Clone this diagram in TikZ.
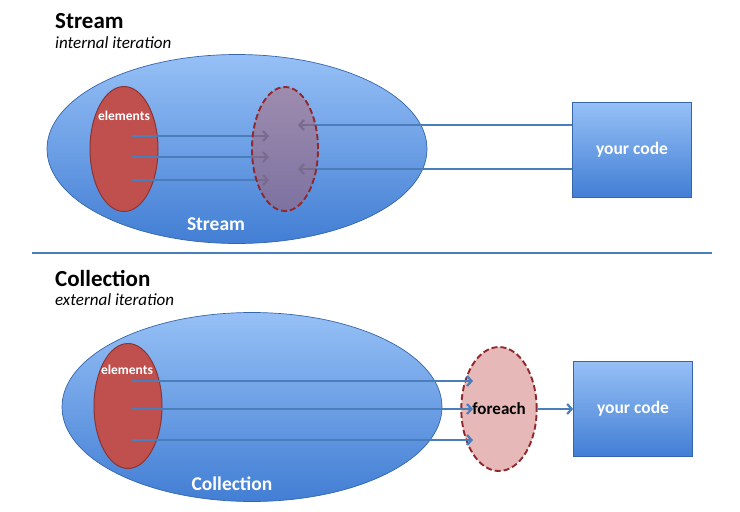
\documentclass[tikz,border=0pt]{standalone}
\usepackage{fontspec}
\setmainfont{Carlito}
\usetikzlibrary{shapes.geometric, arrows.meta}

\definecolor{elemred}{RGB}{192,80,77}
\definecolor{elemborder}{RGB}{140,52,50}
\definecolor{dashborder}{RGB}{145,40,45}
\definecolor{flowblue}{RGB}{74,126,187}
\definecolor{bluetop}{RGB}{150,192,246}
\definecolor{bluebottom}{RGB}{66,126,212}

\pgfdeclarelayer{front}
\pgfsetlayers{main,front}

\begin{document}
\begin{tikzpicture}[x=1pt, y=-1pt,
    heading/.style = {anchor=base west, inner sep=0, font=\fontsize{23}{27}\selectfont\bfseries},
    subheading/.style = {anchor=base west, inner sep=0, font=\fontsize{17}{20}\selectfont\itshape},
    container/.style = {ellipse, inner sep=0, minimum width=380, minimum height=189,
                        top color=bluetop, bottom color=bluebottom, draw=bluebottom!80!black, line width=0.7pt},
    elements/.style = {ellipse, inner sep=0, minimum width=68, minimum height=125,
                       fill=elemred, draw=elemborder, line width=1pt},
    loop/.style = {ellipse, inner sep=0, minimum width=66, minimum height=124, fill=elemred, fill opacity=0.4,
                   text opacity=1, draw=dashborder, draw opacity=1, dash pattern=on 6pt off 3pt, line width=1.9pt,
                   font=\fontsize{17}{20}\selectfont\bfseries},
    code/.style = {rectangle, inner sep=0, minimum width=119, minimum height=95, text=white,
                   top color=bluetop, bottom color=bluebottom, draw=bluebottom!80!black, line width=0.7pt,
                   font=\fontsize{17.5}{21}\selectfont\bfseries},
    caption/.style = {anchor=base, inner sep=0, text=white, font=\fontsize{19.5}{23}\selectfont\bfseries},
    tag/.style = {anchor=base, inner sep=0, text=white, font=\fontsize{13.5}{16}\selectfont\bfseries},
    flow/.style = {draw=flowblue, line width=2.2pt, -{Straight Barb[length=4.5pt, width=10pt]}}]
  \useasboundingbox (0, 0) rectangle (740, 512);

  % Stream.
  \node at (55, 28) [heading, name=StreamTitle] {Stream};
  \node at (55, 48) [subheading, name=StreamNote] {internal iteration};
  \node at (237, 149) [container, name=Stream] {};
  \node at (216, 230) [caption, name=StreamName] {Stream};
  \node at (124, 149) [elements, name=StreamElements] {};
  \node at (124, 120) [tag, name=StreamTag] {elements};
  \begin{pgfonlayer}{front}
    \node at (285, 149) [loop, name=StreamLoop] {};
  \end{pgfonlayer}
  \node at (632, 150) [code, name=StreamCode] {your code};

  \foreach \dy in {-13, 8, 31}
    \draw [flow] ([shift={(8, \dy)}] StreamElements.center)
                 to ([shift={(-16, \dy)}] StreamLoop.center);
  \foreach \dy in {-24, 20}
    \draw [flow] ([shift={(0, \dy-1)}] StreamCode.west)
                 to ([shift={(13, \dy)}] StreamLoop.center);

  % Divider
  \draw [flowblue, line width=1.8pt] (32, 253) -- (712, 253);

  % Collection.
  \node at (55, 286) [heading, name=CollectionTitle] {Collection};
  \node at (55, 305) [subheading, name=CollectionNote] {external iteration};
  \node at (252, 407) [container, name=Collection] {};
  \node at (232, 490) [caption, name=CollectionName] {Collection};
  \node at (128, 406) [elements, name=CollectionElements] {};
  \node at (127, 374) [tag, name=CollectionTag] {elements};
  \node at (499, 409) [loop, name=Foreach] {foreach};
  \node at (633, 409) [code, name=CollectionCode] {your code};

  \foreach \a/\b in {-25/-28, 3/0, 34/31}
    \draw [flow] ([shift={(4, \a)}] CollectionElements.center)
                 to ([shift={(-26, \b)}] Foreach.center);
  \draw [flow] (Foreach) to (CollectionCode);
\end{tikzpicture}
\end{document}
